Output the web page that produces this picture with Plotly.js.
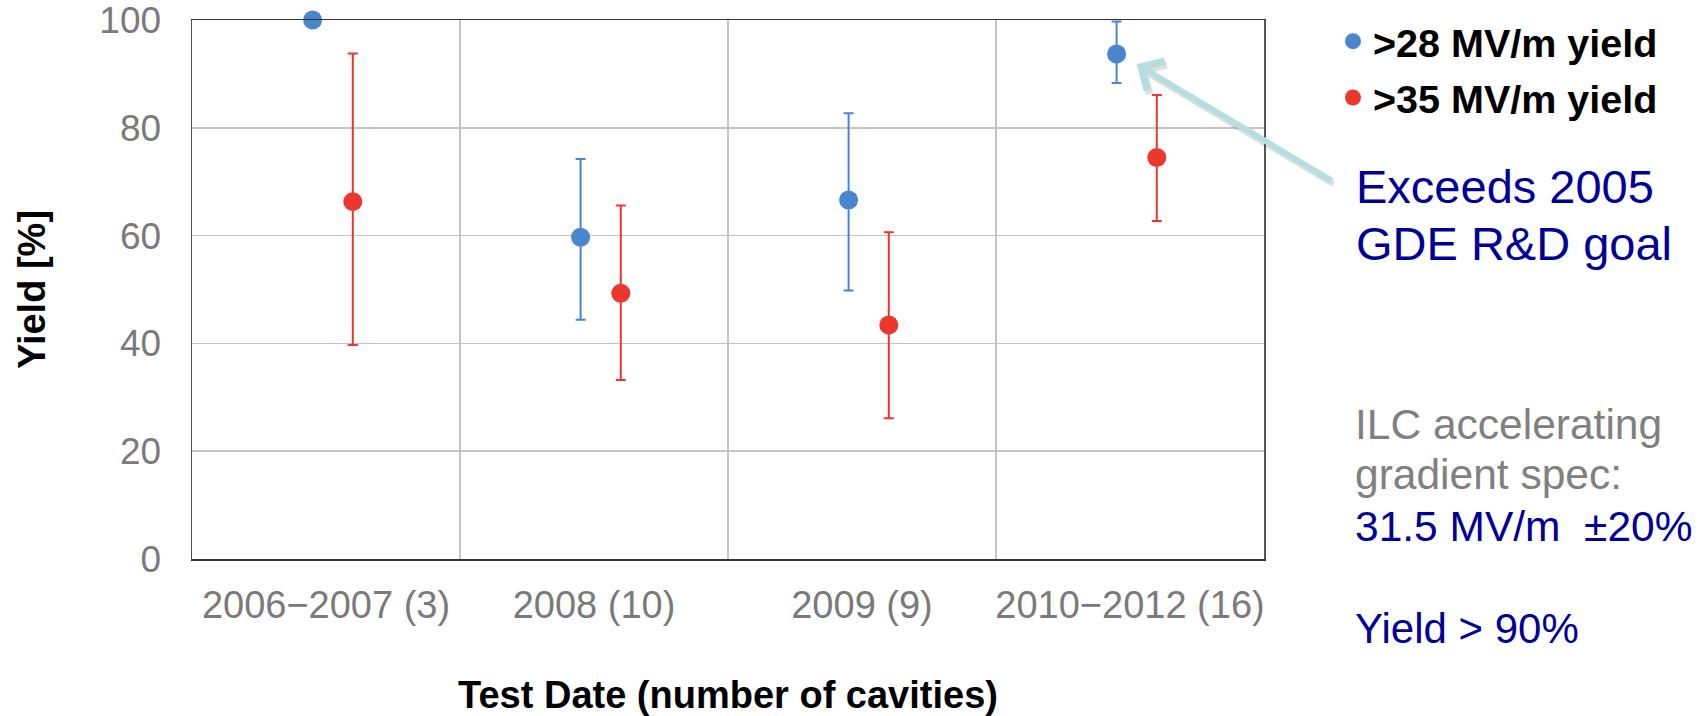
<!DOCTYPE html>
<html>
<head>
<meta charset="utf-8">
<script src="https://cdn.plot.ly/plotly-3.0.1.min.js"></script>
<style>html,body{margin:0;padding:0;background:#fff;}#chart{width:1707px;height:716px;}</style>
</head>
<body>
<div id="chart"></div>
<script>
// ---- data ----
var categories = ["2006\u22122007 (3)", "2008 (10)", "2009 (9)", "2010\u22122012 (16)"];
var yield28 = [100, 59.7, 66.6, 93.7];
var yield28Upper = [null, 74.2, 82.7, 99.7];
var yield28Lower = [null, 44.4, 49.8, 88.3];
var yield35 = [66.3, 49.3, 43.4, 74.5];
var yield35Upper = [93.8, 65.6, 60.6, 86.1];
var yield35Lower = [39.7, 33.2, 26.1, 62.7];
var seriesNames = [">28 MV/m yield", ">35 MV/m yield"];
var yTicks = [0, 20, 40, 60, 80, 100];

// ---- styling ----
var FONT = "Liberation Sans, Arial, Helvetica, sans-serif";
var BLUE = "#4A86CE", RED = "#EC372F";
var DARKBLUE = "#000099", GREY = "#808080";
var idx = categories.map(function (_, i) { return i; });
var offBlue = -0.05, offRed = 0.10;

function errs(vals, up, lo) {
  return {
    plus: vals.map(function (v, i) { return up[i] == null ? null : up[i] - v; }),
    minus: vals.map(function (v, i) { return lo[i] == null ? null : v - lo[i]; })
  };
}
var e28 = errs(yield28, yield28Upper, yield28Lower);
var e35 = errs(yield35, yield35Upper, yield35Lower);

var traces = [
  {
    type: "scatter", mode: "markers", name: seriesNames[0], legendgroup: "a",
    x: idx.map(function (i) { return i + offBlue; }), y: yield28,
    marker: {color: BLUE, size: 19},
    error_y: {type: "data", symmetric: false, array: e28.plus, arrayminus: e28.minus,
              color: BLUE, thickness: 2, width: 5},
    cliponaxis: false
  },
  {
    type: "scatter", mode: "markers", name: seriesNames[1], legendgroup: "b",
    x: idx.map(function (i) { return i + offRed; }), y: yield35,
    marker: {color: RED, size: 19},
    error_y: {type: "data", symmetric: false, array: e35.plus, arrayminus: e35.minus,
              color: RED, thickness: 2, width: 5},
    cliponaxis: false
  }
];

var L = 192, R = 443, T = 20, B = 157;
var W = 1707, H = 716;
var pw = W - L - R, ph = H - T - B;
function px(xpix) { return (xpix - L) / pw; }
function py(ypix) { return (H - B - ypix) / ph; }

var annotations = [
  // arrow shadow
  {xref: "paper", yref: "paper", x: px(1139), y: py(68), ax: 196, ay: 117,
   axref: "pixel", ayref: "pixel", text: "", showarrow: true,
   arrowhead: 4, arrowsize: 1.1, arrowwidth: 6, arrowcolor: "rgba(0,0,0,0.12)"},
  // arrow
  {xref: "paper", yref: "paper", x: px(1136.7), y: py(64.3), ax: 196.6, ay: 117.4,
   axref: "pixel", ayref: "pixel", text: "", showarrow: true,
   arrowhead: 4, arrowsize: 1.1, arrowwidth: 6, arrowcolor: "#B4DEE0"},
  {xref: "paper", yref: "paper", x: px(1354), y: py(186), xanchor: "left", yanchor: "middle",
   text: "Exceeds 2005", showarrow: false, font: {family: FONT, size: 47, color: DARKBLUE}},
  {xref: "paper", yref: "paper", x: px(1354), y: py(243.3), xanchor: "left", yanchor: "middle",
   text: "GDE R&amp;D goal", showarrow: false, font: {family: FONT, size: 47, color: DARKBLUE}},
  {xref: "paper", yref: "paper", x: px(1353), y: py(424.3), xanchor: "left", yanchor: "middle",
   text: "ILC accelerating", showarrow: false, font: {family: FONT, size: 42.5, color: GREY}},
  {xref: "paper", yref: "paper", x: px(1353), y: py(474.3), xanchor: "left", yanchor: "middle",
   text: "gradient spec:", showarrow: false, font: {family: FONT, size: 42.5, color: GREY}},
  {xref: "paper", yref: "paper", x: px(1353), y: py(526.3), xanchor: "left", yanchor: "middle",
   text: "31.5 MV/m\u00A0\u00A0\u00B120%", showarrow: false, font: {family: FONT, size: 42.5, color: DARKBLUE}},
  {xref: "paper", yref: "paper", x: px(1353), y: py(628.3), xanchor: "left", yanchor: "middle",
   text: "Yield &gt; 90%", showarrow: false, font: {family: FONT, size: 42, color: DARKBLUE}}
];

var layout = {
  width: W, height: H,
  margin: {l: L, r: R, t: T, b: B, pad: 0},
  paper_bgcolor: "#fff", plot_bgcolor: "#fff",
  font: {family: FONT},
  showlegend: true,
  legend: {
    xref: "container", yref: "container",
    x: 1333 / W, y: 1 - 9 / H, xanchor: "left", yanchor: "top",
    traceorder: "grouped", tracegroupgap: 2,
    font: {family: FONT, size: 39.5, color: "#000", weight: "bold"},
    bgcolor: "rgba(0,0,0,0)", borderwidth: 0
  },
  xaxis: {
    range: [-0.5, 3.5], tickmode: "array", tickvals: idx, ticktext: categories,
    showgrid: false, zeroline: false,
    showline: true, mirror: true, linecolor: "#333", linewidth: 1.5,
    ticks: "", ticklabelstandoff: 12,
    tickfont: {family: FONT, size: 38, color: "#7A7A7A"},
    minor: {tickmode: "array", tickvals: [0.5, 1.5, 2.5], showgrid: true,
            gridcolor: "#C4C4C4", gridwidth: 1.5, ticks: ""},
    title: {text: "Test Date (number of cavities)", standoff: 56,
            font: {family: FONT, size: 38, color: "#000", weight: "bold"}},
    fixedrange: true
  },
  yaxis: {
    range: [0, 100], tickmode: "array", tickvals: yTicks,
    showgrid: true, gridcolor: "#C4C4C4", gridwidth: 1.5, zeroline: false,
    showline: true, mirror: true, linecolor: "#555", linewidth: 1.5,
    ticks: "", ticklabelstandoff: 22, ticklabeloverflow: "allow",
    tickfont: {family: FONT, size: 37, color: "#7A7A7A"},
    title: {text: "Yield [%]", standoff: 42,
            font: {family: FONT, size: 38, color: "#000", weight: "bold"}},
    fixedrange: true
  },
  annotations: annotations
};

Plotly.newPlot("chart", traces, layout, {staticPlot: true, displayModeBar: false});
</script>
</body>
</html>
